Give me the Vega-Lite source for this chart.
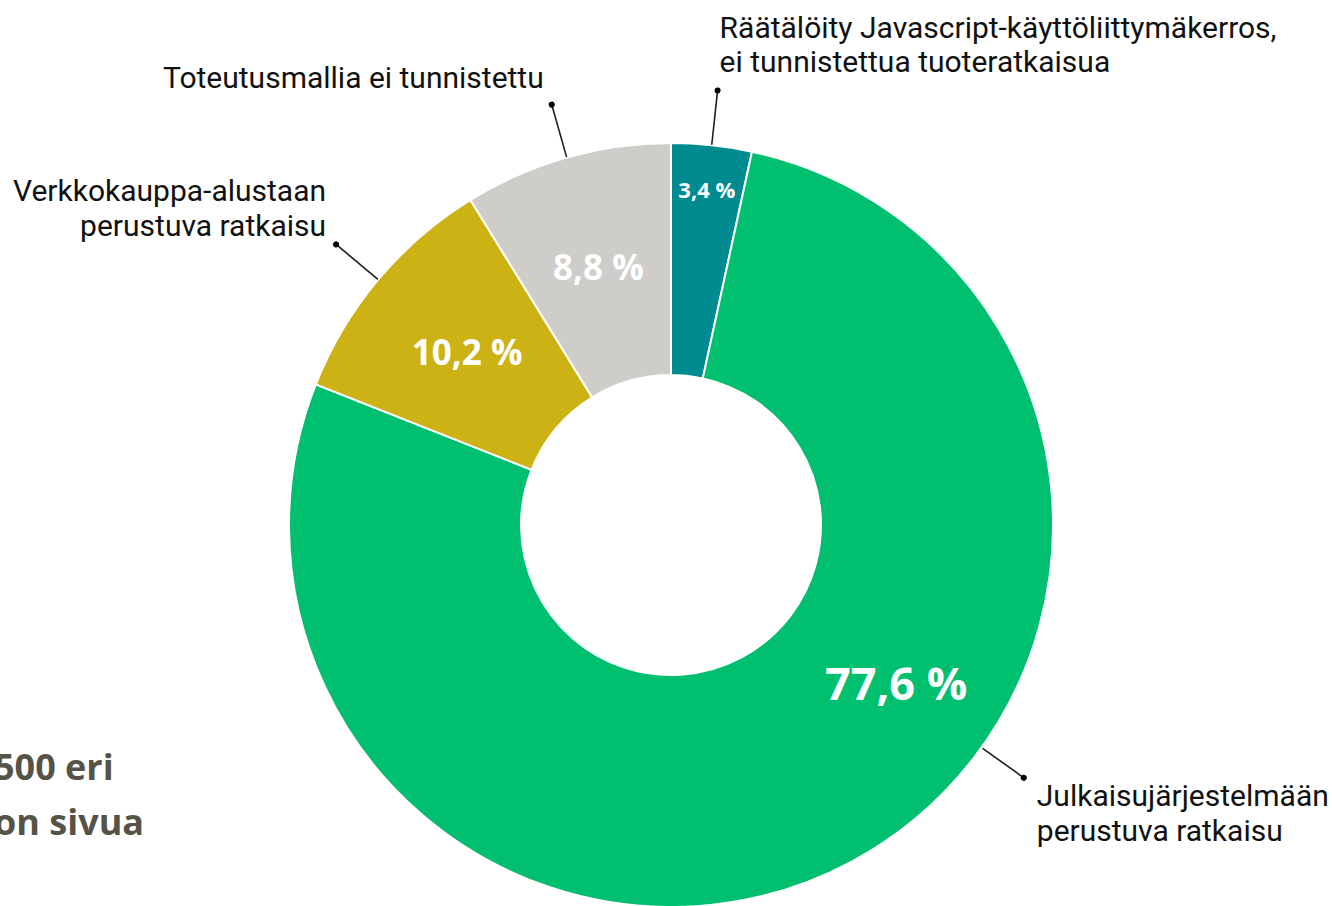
{
  "$schema": "https://vega.github.io/schema/vega-lite/v6.json",
  "autosize": "none",
  "width": 1322,
  "height": 762,
  "padding": {"left": 10, "top": 144, "right": 0, "bottom": 0},
  "background": "white",
  "config": {"view": {"stroke": null}},
  "title": {
    "text": ["500 eri", "on sivua"],
    "orient": "bottom",
    "anchor": "start",
    "frame": "group",
    "offset": -159,
    "dx": -16,
    "align": "left",
    "baseline": "top",
    "font": "Open Sans",
    "fontSize": 36,
    "fontWeight": "bold",
    "color": "#555248",
    "lineHeight": 55
  },
  "data": {
    "values": [
      {"id": "js", "name": "Räätälöity Javascript-käyttöliittymäkerros,\nei tunnistettua tuoteratkaisua", "value": 3.4},
      {"id": "cms", "name": "Julkaisujärjestelmään\nperustuva ratkaisu", "value": 77.6},
      {"id": "shop", "name": "Verkkokauppa-alustaan\nperustuva ratkaisu", "value": 10.2},
      {"id": "unknown", "name": "Toteutusmallia ei tunnistettu", "value": 8.8}
    ]
  },
  "transform": [
    {"window": [{"op": "sum", "field": "value", "as": "v1"}], "frame": [null, 0]},
    {"calculate": "datum.v1 - datum.value", "as": "v0"},
    {"calculate": "datum.v1 - datum.value / 2", "as": "mid"},
    {"calculate": "replace(format(datum.value, '.1f'), '.', ',') + ' %'", "as": "pct"}
  ],
  "layer": [
    {
      "mark": {"type": "arc", "outerRadius": 382, "innerRadius": 150, "stroke": "white", "strokeWidth": 2},
      "encoding": {
        "theta": {"field": "v0", "type": "quantitative", "scale": {"domain": [0, 100], "range": [0, 6.283185307]}},
        "theta2": {"field": "v1"},
        "color": {
          "field": "id", "type": "nominal", "legend": null,
          "scale": {"domain": ["js", "cms", "shop", "unknown"], "range": ["#008b90", "#00bf6f", "#ccb215", "#cfcdc9"]}
        }
      }
    },
    {
      "transform": [{"filter": "datum.id == 'shop' || datum.id == 'unknown'"}],
      "mark": {"type": "text", "radius": 266, "font": "Open Sans", "fontWeight": "bold", "fontSize": 35, "color": "white", "align": "center", "baseline": "middle"},
      "encoding": {
        "theta": {"field": "mid", "type": "quantitative", "scale": {"domain": [0, 100], "range": [0, 6.283185307]}},
        "text": {"field": "pct"}
      }
    },
    {
      "transform": [{"filter": "datum.id == 'js'"}],
      "mark": {"type": "text", "radius": 336, "font": "Open Sans", "fontWeight": "bold", "fontSize": 22, "color": "white", "align": "center", "baseline": "middle"},
      "encoding": {
        "theta": {"field": "mid", "type": "quantitative", "scale": {"domain": [0, 100], "range": [0, 6.283185307]}},
        "text": {"field": "pct"}
      }
    },
    {
      "transform": [{"filter": "datum.id == 'cms'"}],
      "mark": {"type": "text", "radius": 277, "thetaOffset": -0.459, "font": "Open Sans", "fontWeight": "bold", "fontSize": 45, "color": "white", "align": "center", "baseline": "middle"},
      "encoding": {
        "theta": {"field": "mid", "type": "quantitative", "scale": {"domain": [0, 100], "range": [0, 6.283185307]}},
        "text": {"field": "pct"}
      }
    },
    {
      "transform": [{"filter": "datum.id != 'cms'"}],
      "mark": {"type": "arc", "radius": 437, "radius2": 383, "thetaOffset": -0.0005, "theta2Offset": 0.0005, "fill": "#222222", "stroke": "#222222", "strokeWidth": 1.2},
      "encoding": {
        "theta": {"field": "mid", "type": "quantitative", "scale": {"domain": [0, 100], "range": [0, 6.283185307]}},
        "theta2": {"field": "mid"}
      }
    },
    {
      "transform": [{"filter": "datum.id == 'cms'"}],
      "mark": {"type": "arc", "radius": 434, "radius2": 384, "thetaOffset": -0.4595, "theta2Offset": -0.4585, "fill": "#222222", "stroke": "#222222", "strokeWidth": 1.2},
      "encoding": {
        "theta": {"field": "mid", "type": "quantitative", "scale": {"domain": [0, 100], "range": [0, 6.283185307]}},
        "theta2": {"field": "mid"}
      }
    },
    {
      "transform": [{"filter": "datum.id != 'cms'"}],
      "mark": {"type": "arc", "radius": 440, "radius2": 434, "thetaOffset": -0.0069, "theta2Offset": 0.0069, "cornerRadius": 3, "fill": "#000000"},
      "encoding": {
        "theta": {"field": "mid", "type": "quantitative", "scale": {"domain": [0, 100], "range": [0, 6.283185307]}},
        "theta2": {"field": "mid"}
      }
    },
    {
      "transform": [{"filter": "datum.id == 'cms'"}],
      "mark": {"type": "arc", "radius": 437, "radius2": 431, "thetaOffset": -0.4659, "theta2Offset": -0.4521, "cornerRadius": 3, "fill": "#000000"},
      "encoding": {
        "theta": {"field": "mid", "type": "quantitative", "scale": {"domain": [0, 100], "range": [0, 6.283185307]}},
        "theta2": {"field": "mid"}
      }
    },
    {
      "transform": [{"filter": "datum.id == 'js'"}],
      "mark": {"type": "text", "radius": 437, "dx": 2, "dy": -52, "align": "left", "baseline": "alphabetic", "lineBreak": "\n", "lineHeight": 34, "font": "Roboto", "fontSize": 30, "color": "#111111"},
      "encoding": {
        "theta": {"field": "mid", "type": "quantitative", "scale": {"domain": [0, 100], "range": [0, 6.283185307]}},
        "text": {"field": "name"}
      }
    },
    {
      "transform": [{"filter": "datum.id == 'unknown'"}],
      "mark": {"type": "text", "radius": 437, "dx": -8, "dy": -17, "align": "right", "baseline": "alphabetic", "lineBreak": "\n", "lineHeight": 34, "font": "Roboto", "fontSize": 30, "color": "#111111"},
      "encoding": {
        "theta": {"field": "mid", "type": "quantitative", "scale": {"domain": [0, 100], "range": [0, 6.283185307]}},
        "text": {"field": "name"}
      }
    },
    {
      "transform": [{"filter": "datum.id == 'shop'"}],
      "mark": {"type": "text", "radius": 437, "dx": -10, "dy": -43, "align": "right", "baseline": "alphabetic", "lineBreak": "\n", "lineHeight": 35, "font": "Roboto", "fontSize": 30, "color": "#111111"},
      "encoding": {
        "theta": {"field": "mid", "type": "quantitative", "scale": {"domain": [0, 100], "range": [0, 6.283185307]}},
        "text": {"field": "name"}
      }
    },
    {
      "transform": [{"filter": "datum.id == 'cms'"}],
      "mark": {"type": "text", "radius": 434, "thetaOffset": -0.459, "dx": 13, "dy": 28, "align": "left", "baseline": "alphabetic", "lineBreak": "\n", "lineHeight": 35, "font": "Roboto", "fontSize": 30, "color": "#111111"},
      "encoding": {
        "theta": {"field": "mid", "type": "quantitative", "scale": {"domain": [0, 100], "range": [0, 6.283185307]}},
        "text": {"field": "name"}
      }
    }
  ]
}
